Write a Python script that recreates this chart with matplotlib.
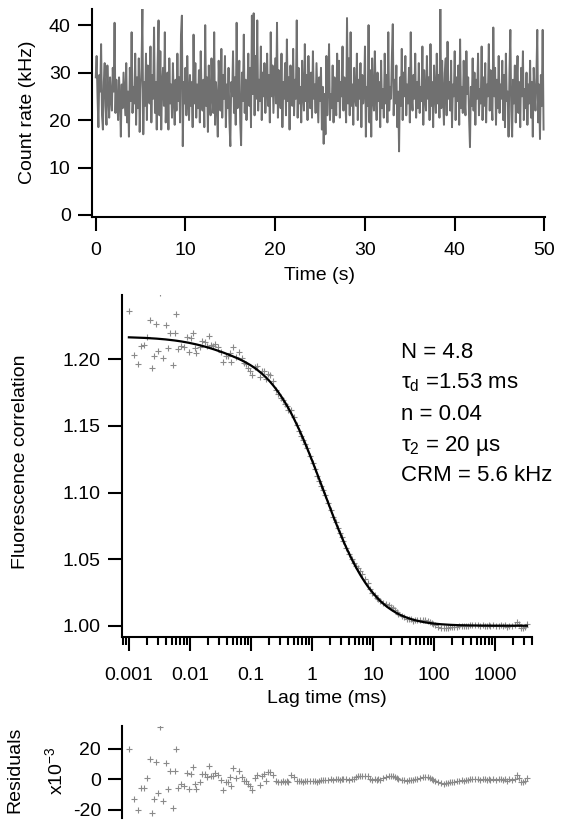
import numpy as np
import matplotlib
matplotlib.use("Agg")
import matplotlib.pyplot as plt
from matplotlib.ticker import FixedLocator, FixedFormatter, LogLocator, NullFormatter, NullLocator

plt.rcParams['font.family'] = ['Liberation Sans', 'DejaVu Sans']
plt.rcParams['mathtext.fontset'] = 'custom'
plt.rcParams['mathtext.rm'] = 'Liberation Sans'
plt.rcParams['axes.unicode_minus'] = False

# ---------------- data ----------------
bin_width_s = 0.1
count_rate_khz = [
    29.0, 33.5, 25.0, 18.5, 29.5, 26.0, 36.0, 21.0, 18.0, 28.0,
    32.0, 23.0, 19.0, 31.5, 25.5, 20.5, 29.0, 24.5, 22.0, 31.0,
    26.0, 40.5, 21.5, 28.5, 23.5, 20.0, 29.0, 25.0, 16.5, 27.5,
    22.5, 30.0, 25.5, 21.0, 32.0, 19.5, 26.0, 16.5, 31.0, 24.0,
    38.5, 21.5, 27.0, 23.5, 34.0, 19.0, 29.0, 22.5, 33.0, 17.5,
    26.5, 31.0, 43.5, 17.0, 28.0, 23.0, 34.0, 20.0, 31.5, 25.0,
    23.5, 35.5, 19.5, 29.5, 24.5, 39.5, 21.5, 28.0, 18.0, 32.0,
    41.0, 21.0, 34.5, 18.0, 27.5, 31.0, 23.0, 38.5, 19.5, 26.0,
    30.0, 18.0, 33.0, 23.5, 27.5, 20.5, 32.0, 24.5, 19.0, 28.5,
    22.0, 34.0, 24.0, 29.0, 19.5, 38.0, 42.0, 14.5, 28.0, 23.5,
    31.0, 21.0, 33.5, 25.0, 20.0, 29.5, 23.0, 28.0, 18.5, 38.0,
    23.5, 32.0, 20.5, 27.5, 22.5, 30.5, 19.5, 34.5, 25.0, 22.0,
    28.5, 18.5, 40.0, 23.0, 29.0, 17.5, 31.5, 24.5, 21.0, 33.0,
    25.0, 21.5, 38.5, 19.0, 28.0, 24.0, 16.5, 32.5, 26.0, 22.0,
    35.0, 20.5, 29.5, 24.5, 33.5, 18.5, 27.5, 22.5, 31.0, 19.5,
    14.5, 28.0, 25.0, 34.5, 21.5, 29.0, 19.0, 40.5, 22.5, 27.0,
    32.5, 19.5, 14.7, 30.0, 24.0, 38.0, 21.5, 28.5, 20.0, 25.5,
    34.0, 23.0, 31.0, 18.5, 42.0, 25.5, 42.5, 21.0, 33.5, 24.5,
    41.0, 22.0, 28.5, 24.0, 35.5, 20.0, 30.0, 25.0, 32.0, 21.5,
    26.5, 34.0, 23.0, 29.5, 19.5, 38.5, 25.0, 31.5, 21.5, 27.0,
    33.0, 23.5, 40.5, 20.5, 30.5, 25.5, 22.5, 34.0, 18.5, 28.0,
    24.5, 32.0, 21.0, 37.0, 24.0, 29.0, 18.0, 31.5, 25.0, 23.0,
    35.0, 21.0, 28.5, 24.5, 41.0, 20.5, 31.0, 23.5, 27.0, 19.5,
    32.5, 25.5, 22.0, 36.0, 24.0, 29.5, 20.0, 33.5, 26.0, 22.5,
    30.0, 20.5, 34.5, 24.5, 27.5, 21.5, 32.0, 25.5, 19.5, 29.0,
    24.0, 31.0, 18.0, 27.0, 15.0, 25.5, 17.0, 33.5, 21.0, 28.0,
    36.0, 20.0, 25.5, 22.5, 31.5, 19.5, 29.0, 24.5, 21.0, 34.0,
    24.0, 32.5, 20.5, 28.0, 25.0, 35.5, 22.0, 29.0, 25.0, 19.5,
    41.5, 23.5, 33.0, 21.0, 38.5, 23.0, 27.5, 19.0, 31.0, 25.0,
    23.0, 34.0, 20.0, 28.5, 24.5, 32.0, 18.5, 29.5, 23.5, 26.0,
    35.5, 16.5, 27.0, 23.0, 40.0, 19.5, 30.5, 16.5, 33.0, 24.5,
    22.0, 34.5, 25.0, 20.0, 30.0, 24.0, 28.0, 18.5, 32.5, 22.5,
    26.5, 20.5, 34.0, 23.5, 29.5, 19.5, 38.5, 22.0, 27.0, 24.5,
    33.5, 40.2, 21.0, 28.5, 23.5, 31.5, 18.5, 26.0, 13.4, 29.0,
    23.0, 35.0, 20.0, 30.0, 25.0, 33.5, 21.0, 27.5, 23.5, 31.0,
    19.5, 38.5, 25.0, 22.0, 29.5, 24.5, 34.0, 20.5, 28.0, 22.5,
    32.0, 21.5, 27.0, 24.0, 35.5, 19.0, 30.5, 25.0, 22.0, 33.5,
    24.5, 29.0, 20.0, 36.0, 23.0, 28.0, 18.5, 31.5, 25.5, 21.5,
    34.0, 23.5, 29.5, 20.5, 43.6, 22.5, 32.5, 25.0, 19.0, 30.0,
    33.0, 21.0, 36.5, 24.5, 28.0, 22.0, 32.5, 18.5, 27.5, 25.0,
    34.5, 20.0, 29.0, 24.0, 31.5, 19.0, 37.0, 22.5, 27.0, 21.5,
    32.5, 24.5, 21.0, 34.5, 25.5, 29.0, 20.5, 14.3, 27.0, 23.0,
    33.0, 22.0, 30.0, 19.0, 28.5, 24.5, 34.0, 21.0, 26.5, 23.5,
    35.5, 20.0, 29.0, 23.0, 32.0, 19.5, 27.5, 25.0, 36.0, 22.0,
    30.5, 24.0, 20.0, 39.5, 25.0, 31.0, 19.0, 28.5, 22.5, 33.5,
    21.5, 27.5, 24.5, 32.5, 20.0, 29.5, 18.5, 34.0, 24.0, 26.0,
    16.5, 30.0, 39.0, 22.0, 16.5, 28.5, 23.5, 31.5, 19.5, 27.0,
    33.5, 21.5, 28.0, 18.5, 31.0, 25.0, 34.5, 20.0, 26.5, 22.5,
    30.0, 19.0, 27.5, 23.5, 32.5, 20.5, 28.0, 16.5, 31.0, 25.5,
    22.0, 29.0, 39.0, 19.5, 27.5, 16.0, 29.5, 23.0, 39.0, 18.0,
]

# multi-tau lag times (ms)
lag_ms = [
    0.0010, 0.0012, 0.0014, 0.0016, 0.0018, 0.0020, 0.0022, 0.0024, 0.0026, 0.0028, 0.0030, 0.0032,
    0.0036, 0.0040, 0.0044, 0.0048, 0.0052, 0.0056, 0.0060, 0.0064,
    0.0072, 0.0080, 0.0088, 0.0096, 0.0104, 0.0112, 0.0120, 0.0128,
    0.0144, 0.0160, 0.0176, 0.0192, 0.0208, 0.0224, 0.0240, 0.0256,
    0.0288, 0.0320, 0.0352, 0.0384, 0.0416, 0.0448, 0.0480, 0.0512,
    0.0576, 0.0640, 0.0704, 0.0768, 0.0832, 0.0896, 0.0960, 0.1024,
    0.1152, 0.1280, 0.1408, 0.1536, 0.1664, 0.1792, 0.1920, 0.2048,
    0.2304, 0.2560, 0.2816, 0.3072, 0.3328, 0.3584, 0.3840, 0.4096,
    0.4608, 0.5120, 0.5632, 0.6144, 0.6656, 0.7168, 0.7680, 0.8192,
    0.9216, 1.024, 1.126, 1.229, 1.331, 1.434, 1.536, 1.638,
    1.843, 2.048, 2.253, 2.458, 2.662, 2.867, 3.072, 3.277,
    3.686, 4.096, 4.506, 4.915, 5.325, 5.734, 6.144, 6.554,
    7.373, 8.192, 9.011, 9.830, 10.65, 11.47, 12.29, 13.11,
    14.75, 16.38, 18.02, 19.66, 21.30, 22.94, 24.58, 26.21,
    29.49, 32.77, 36.04, 39.32, 42.60, 45.88, 49.15, 52.43,
    58.98, 65.54, 72.09, 78.64, 85.20, 91.75, 98.30, 104.9,
    118.0, 131.1, 144.2, 157.3, 170.4, 183.5, 196.6, 209.7,
    235.9, 262.1, 288.4, 314.6, 340.8, 367.0, 393.2, 419.4,
    471.9, 524.3, 576.7, 629.1, 681.6, 734.0, 786.4, 838.9,
    943.7, 1049.0, 1153.0, 1258.0, 1363.0, 1468.0, 1573.0, 1678.0,
    1887.0, 2097.0, 2307.0, 2517.0, 2726.0, 2936.0, 3146.0, 3355.0,
]

# residuals (x 1e-3)
residuals_e3 = [
    19.7, -12.9, -20.0, -5.9, -5.5, 0.6, 13.3, -22.0, -12.9, 11.3, -9.2, 34.5,
    -14.2, 10.9, -6.6, 5.4, -18.8, 5.4, 19.7, -5.7,
    -3.1, -4.2, 3.9, -6.6, 3.6, 8.3, -3.3, -6.6,
    -1.5, 3.4, 3.4, 1.2, 9.0, 2.3, 2.3, 3.9,
    2.8, -0.5, -7.0, -2.0, -1.5, 1.8, -4.7, 7.4,
    0.9, 5.2, 1.8, -1.3, -1.3, -3.4, -4.4, -7.0,
    0.9, 2.9, -3.7, 2.0, 3.5, -0.9, 4.5, 5.0,
    3.0, -1.0, -1.5, -1.8, -1.2, -1.5, -1.0, -1.8,
    2.8, 1.8, -0.8, -1.0, -1.2, -1.5, -1.3, -1.0,
    -1.2, -1.4, -1.0, -1.5, -0.8, -0.5, -0.2, -0.6,
    -0.3, 0.0, -0.5, 0.2, 0.0, -0.3, 0.2, 0.0,
    0.3, -0.2, 0.5, 0.4, 1.5, 2.2, 2.5, 2.3,
    2.4, 2.0, 0.5, -0.2, 0.0, -0.5, 0.2, -0.3,
    0.8, 1.8, 2.2, 2.0, 2.4, 1.8, 0.6, 0.0,
    -0.5, -0.3, -0.8, -0.5, -0.2, -0.6, 0.1, 0.5,
    0.8, 1.2, 1.6, 1.3, 0.8, 0.2, -0.5, -1.0,
    -2.0, -2.5, -2.8, -2.3, -2.6, -2.0, -1.5, -1.8,
    -1.2, -0.8, -0.5, -0.8, -0.3, -0.6, 0.0, 0.3,
    0.5, 0.2, -0.3, 0.4, 0.0, -0.4, 0.2, -0.2,
    0.3, -0.5, 0.0, 0.5, -0.3, 0.2, -0.8, 0.0,
    -0.4, 0.4, 2.8, 1.0, -1.5, -1.8, -0.8, 1.0,
]

# fit parameters (shown on the chart)
N_fit = 4.8
tau_d_ms = 1.53
n_trip = 0.04
tau_2_ms = 0.020
S_struct = 5.0

annot_lines = ["N = 4.8", "τ$_\\mathregular{d}$ =1.53 ms", "n = 0.04",
               "τ$_\\mathregular{2}$ = 20 µs", "CRM = 5.6 kHz"]

time_ticks = [0, 10, 20, 30, 40, 50]
rate_ticks = [0, 10, 20, 30, 40]
corr_ticks = [1.00, 1.05, 1.10, 1.15, 1.20]
corr_ticklabels = ["1.00", "1.05", "1.10", "1.15", "1.20"]
lag_ticks = [0.001, 0.01, 0.1, 1, 10, 100, 1000]
lag_ticklabels = ["0.001", "0.01", "0.1", "1", "10", "100", "1000"]
res_ticks = [-20, 0, 20]

# ---------------- derived ----------------
counts = np.array(count_rate_khz)
t = np.arange(len(counts)) * bin_width_s
tau = np.array(lag_ms)
fit = 1 + (1.0 / N_fit) * (1 + n_trip / (1 - n_trip) * np.exp(-tau / tau_2_ms)) \
    / ((1 + tau / tau_d_ms) * np.sqrt(1 + tau / (S_struct ** 2 * tau_d_ms)))
res = np.array(residuals_e3)
data = fit + res * 1e-3

# ---------------- figure ----------------
W, H = 576, 821
fig = plt.figure(figsize=(W / 100, H / 100), dpi=100)

def ax_px(x0, x1, ytop, ybot):
    return fig.add_axes([x0 / W, 1 - ybot / H, (x1 - x0) / W, (ybot - ytop) / H])

FS = 14
LFS = 14
gray_line = '#707070'
gray_mark = '#8a8a8a'

def style(ax, show_bottom=True, xpad=8):
    ax.spines['top'].set_visible(False)
    ax.spines['right'].set_visible(False)
    ax.spines['left'].set_linewidth(1.5)
    ax.spines['bottom'].set_linewidth(1.5)
    if not show_bottom:
        ax.spines['bottom'].set_visible(False)
    ax.tick_params(axis='both', which='major', direction='out', length=10, width=1.5,
                   labelsize=FS, colors='black')
    ax.tick_params(axis='y', pad=5)
    ax.tick_params(axis='x', pad=xpad)
    ax.patch.set_alpha(0)

# top: count rate trace
ax1 = ax_px(91.5, 545, 9, 216.7)
ax1.plot(t, counts, color=gray_line, lw=1.4)
ax1.set_xlim(-0.47, 50.06)
ax1.set_ylim(-0.36, 43.4)
style(ax1)
ax1.xaxis.set_major_locator(FixedLocator(time_ticks))
ax1.yaxis.set_major_locator(FixedLocator(rate_ticks))
fig.text(27.7 / W, 1 - 112 / H, "Count rate (kHz)", rotation=90, ha='center', va='center', fontsize=LFS)
fig.text(320 / W, 1 - 275 / H, "Time (s)", ha='center', va='center', fontsize=LFS)

# middle: correlation
ax2 = ax_px(121.8, 531.7, 295, 636.7)
ax2.set_xscale('log')
ax2.plot(tau, data, linestyle='none', marker='+', color=gray_mark, ms=5, mew=0.8)
ax2.plot(tau, fit, color='black', lw=1.6)
ax2.set_xlim(7.65e-4, 4010)
ax2.set_ylim(0.9918, 1.2482)
style(ax2, xpad=11.5)
ax2.xaxis.set_major_locator(FixedLocator(lag_ticks))
ax2.xaxis.set_major_formatter(FixedFormatter(lag_ticklabels))
ax2.xaxis.set_minor_locator(LogLocator(base=10, subs=np.arange(2, 10), numticks=20))
ax2.xaxis.set_minor_formatter(NullFormatter())
ax2.tick_params(axis='x', which='minor', direction='out', length=6, width=1.5)
ax2.yaxis.set_major_locator(FixedLocator(corr_ticks))
ax2.yaxis.set_major_formatter(FixedFormatter(corr_ticklabels))
fig.text(21 / W, 1 - 462 / H, "Fluorescence correlation", rotation=90, ha='center', va='center', fontsize=LFS)
fig.text(327 / W, 1 - 698 / H, "Lag time (ms)", ha='center', va='center', fontsize=LFS)

baselines = [358.3, 388.5, 420.0, 450.5, 480.5]
for txt, yb in zip(annot_lines, baselines):
    fig.text(400.7 / W, 1 - yb / H, txt, ha='left', va='baseline', fontsize=16)

# bottom: residuals
ax3 = ax_px(121.8, 531.7, 726, 818.3)
ax3.set_xscale('log')
ax3.plot(tau, res, linestyle='none', marker='+', color=gray_mark, ms=5, mew=0.8)
ax3.set_xlim(7.65e-4, 4010)
ax3.set_ylim(-25.6, 35.0)
style(ax3, show_bottom=False)
ax3.xaxis.set_major_locator(NullLocator())
ax3.xaxis.set_minor_locator(NullLocator())
ax3.tick_params(axis='x', which='both', bottom=False, labelbottom=False)
ax3.yaxis.set_major_locator(FixedLocator(res_ticks))
fig.text(14.8 / W, 1 - 770 / H, "Residuals", rotation=90, ha='center', va='center', fontsize=LFS)
fig.text(55.4 / W, 1 - 771 / H, "x10$^{\\mathregular{-3}}$", rotation=90, ha='center', va='center', fontsize=LFS)

fig.savefig("out.png", dpi=100)
